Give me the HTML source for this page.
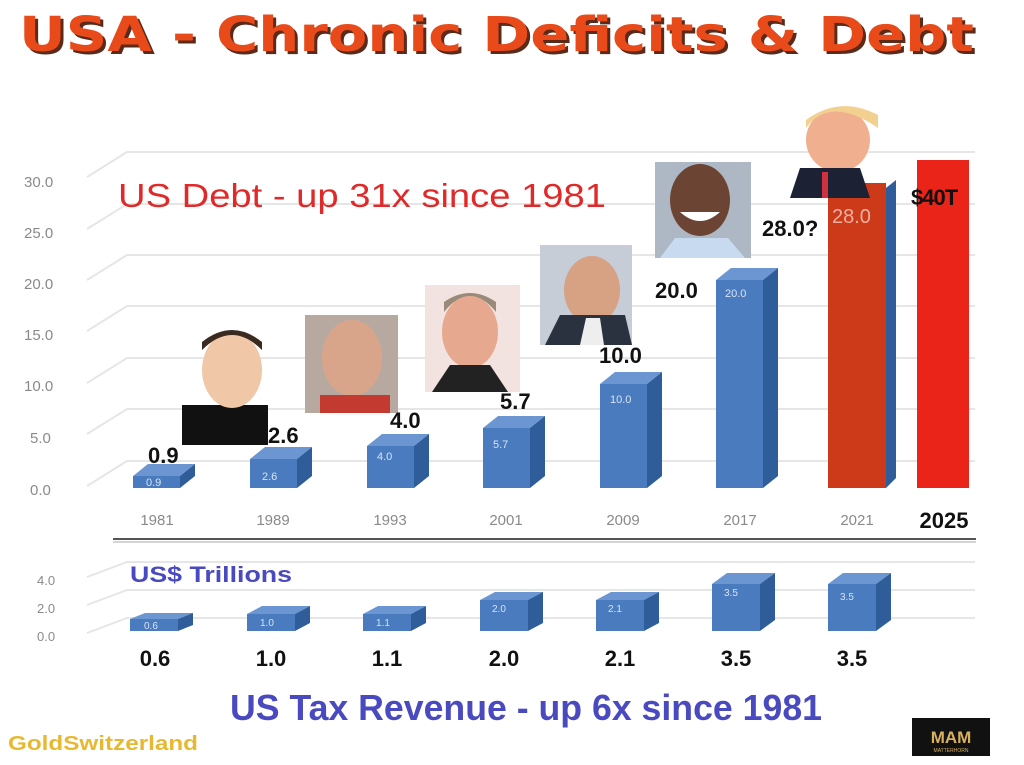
<!DOCTYPE html>
<html><head><meta charset="utf-8"><style>
html,body{margin:0;padding:0;background:#fff;}
svg{display:block;}
text{font-family:"Liberation Sans",sans-serif;}
</style></head><body>
<svg width="1024" height="765" viewBox="0 0 1024 765" xmlns="http://www.w3.org/2000/svg">
<rect width="1024" height="765" fill="#fff"/>
<!-- title -->
<text x="22" y="54" font-size="48" font-weight="bold" fill="#5a2a1a" style="font-family:'DejaVu Sans',sans-serif" textLength="955" lengthAdjust="spacingAndGlyphs">USA - Chronic Deficits &amp; Debt</text>
<text x="19" y="51" font-size="48" font-weight="bold" fill="#e84a1a" style="font-family:'DejaVu Sans',sans-serif" textLength="955" lengthAdjust="spacingAndGlyphs">USA - Chronic Deficits &amp; Debt</text>

<!-- top gridlines -->
<g stroke="#e6e6e6" stroke-width="2" fill="none">
<polyline points="87,177 127,152 975,152"/>
<polyline points="87,229 127,204 975,204"/>
<polyline points="87,280 127,255 975,255"/>
<polyline points="87,331 127,306 975,306"/>
<polyline points="87,383 127,358 975,358"/>
<polyline points="87,434 127,409 975,409"/>
<polyline points="87,486 127,461 975,461"/>
</g>
<g font-size="15" fill="#8a8a8a">
<text x="24" y="187">30.0</text><text x="24" y="238">25.0</text><text x="24" y="289">20.0</text>
<text x="24" y="340">15.0</text><text x="24" y="391">10.0</text><text x="30" y="443">5.0</text><text x="30" y="495">0.0</text>
</g>
<text x="118" y="207" font-size="33" fill="#e02a2a" textLength="488" lengthAdjust="spacingAndGlyphs">US Debt  -  up 31x since 1981</text>

<!-- top bars -->
<g>
<polygon points="133,476 148,464 195,464 180,476" fill="#6b96d2"/><polygon points="180,476 195,464 195,476 180,488" fill="#2f5d99"/><rect x="133" y="476" width="47" height="12" fill="#4a7bbf"/>
<polygon points="250,459 265,447 312,447 297,459" fill="#6b96d2"/><polygon points="297,459 312,447 312,476 297,488" fill="#2f5d99"/><rect x="250" y="459" width="47" height="29" fill="#4a7bbf"/>
<polygon points="367,446 382,434 429,434 414,446" fill="#6b96d2"/><polygon points="414,446 429,434 429,476 414,488" fill="#2f5d99"/><rect x="367" y="446" width="47" height="42" fill="#4a7bbf"/>
<polygon points="483,428 498,416 545,416 530,428" fill="#6b96d2"/><polygon points="530,428 545,416 545,476 530,488" fill="#2f5d99"/><rect x="483" y="428" width="47" height="60" fill="#4a7bbf"/>
<polygon points="600,384 615,372 662,372 647,384" fill="#6b96d2"/><polygon points="647,384 662,372 662,476 647,488" fill="#2f5d99"/><rect x="600" y="384" width="47" height="104" fill="#4a7bbf"/>
<polygon points="716,280 731,268 778,268 763,280" fill="#6b96d2"/><polygon points="763,280 778,268 778,476 763,488" fill="#2f5d99"/><rect x="716" y="280" width="47" height="208" fill="#4a7bbf"/>
<polygon points="886,188 896,180 896,478 886,488" fill="#2f5d99"/>
<rect x="828" y="183" width="58" height="305" fill="#cc3a1a"/>
<rect x="917" y="160" width="52" height="328" fill="#ea2419"/>
</g>
<g font-size="11" fill="#d8e4f4">
<text x="146" y="486">0.9</text><text x="262" y="480">2.6</text><text x="377" y="460">4.0</text>
<text x="493" y="448">5.7</text><text x="610" y="403">10.0</text><text x="725" y="297">20.0</text>
</g>
<text x="832" y="223" font-size="20" fill="#f0b0a0">28.0</text>

<!-- portraits (approximations) -->
<g>
<rect x="182" y="405" width="86" height="40" fill="#111"/>
<ellipse cx="232" cy="370" rx="30" ry="38" fill="#f0c8a8"/>
<path d="M202,350 Q232,320 262,350 L262,342 Q232,318 202,342Z" fill="#3a2a20"/>
<rect x="305" y="315" width="93" height="98" fill="#b8a9a0"/>
<ellipse cx="352" cy="358" rx="30" ry="38" fill="#d9a58a"/><rect x="320" y="395" width="70" height="18" fill="#c23a30"/>
<rect x="425" y="285" width="95" height="107" fill="#f2e2e0"/>
<ellipse cx="470" cy="332" rx="28" ry="36" fill="#e6a88e"/><path d="M432,392 L450,365 L490,365 L508,392Z" fill="#222"/>
<path d="M444,312 Q470,280 496,312 L496,302 Q470,284 444,302Z" fill="#9a8a7a"/>
<rect x="540" y="245" width="92" height="100" fill="#c6cdd6"/>
<ellipse cx="592" cy="290" rx="28" ry="34" fill="#d7a184"/><path d="M545,345 L560,315 L625,315 L632,345Z" fill="#2a3240"/><path d="M580,345 L586,318 L600,318 L604,345Z" fill="#eee"/>
<rect x="655" y="162" width="96" height="96" fill="#aeb7c4"/>
<ellipse cx="700" cy="200" rx="30" ry="36" fill="#6b4433"/><path d="M680,212 Q700,230 720,212Z" fill="#fff"/><path d="M660,258 L675,238 L728,238 L745,258Z" fill="#c8daf0"/>
<ellipse cx="838" cy="140" rx="32" ry="32" fill="#f0b090"/><path d="M806,128 Q830,95 878,128 L878,115 Q840,95 806,120Z" fill="#f2d090"/>
<path d="M790,198 L800,168 L860,168 L870,198Z" fill="#1c2233"/><rect x="822" y="172" width="6" height="26" fill="#d03040"/>
</g>

<!-- value labels -->
<g font-size="22" font-weight="bold" fill="#111">
<text x="148" y="463">0.9</text><text x="268" y="443">2.6</text><text x="390" y="428">4.0</text>
<text x="500" y="409">5.7</text><text x="599" y="363">10.0</text><text x="655" y="298">20.0</text>
<text x="762" y="236">28.0?</text><text x="911" y="205" letter-spacing="-1">$40T</text>
</g>

<!-- years -->
<g font-size="15" fill="#8a8a8a" text-anchor="middle">
<text x="157" y="525">1981</text><text x="273" y="525">1989</text><text x="390" y="525">1993</text>
<text x="506" y="525">2001</text><text x="623" y="525">2009</text><text x="740" y="525">2017</text><text x="857" y="525">2021</text>
</g>
<text x="944" y="528" font-size="22" font-weight="bold" fill="#111" text-anchor="middle">2025</text>

<!-- separator -->
<line x1="113" y1="539" x2="976" y2="539" stroke="#555" stroke-width="2"/>
<line x1="113" y1="542" x2="976" y2="542" stroke="#aaa" stroke-width="1"/>

<!-- bottom gridlines -->
<g stroke="#e6e6e6" stroke-width="2" fill="none">
<polyline points="87,577 127,562 975,562"/>
<polyline points="87,605 127,590 975,590"/>
<polyline points="87,633 127,618 975,618"/>
</g>
<g font-size="13" fill="#8a8a8a">
<text x="37" y="585">4.0</text><text x="37" y="613">2.0</text><text x="37" y="641">0.0</text>
</g>
<text x="130" y="582" font-size="22" font-weight="bold" fill="#4a4ac0" textLength="162" lengthAdjust="spacingAndGlyphs">US$ Trillions</text>

<!-- bottom bars -->
<g>
<polygon points="130,619 145,613 193,613 178,619" fill="#6b96d2"/><polygon points="178,619 193,613 193,625 178,631" fill="#2f5d99"/><rect x="130" y="619" width="48" height="12" fill="#4a7bbf"/>
<polygon points="247,614 262,606 310,606 295,614" fill="#6b96d2"/><polygon points="295,614 310,606 310,623 295,631" fill="#2f5d99"/><rect x="247" y="614" width="48" height="17" fill="#4a7bbf"/>
<polygon points="363,614 378,606 426,606 411,614" fill="#6b96d2"/><polygon points="411,614 426,606 426,623 411,631" fill="#2f5d99"/><rect x="363" y="614" width="48" height="17" fill="#4a7bbf"/>
<polygon points="480,600 495,592 543,592 528,600" fill="#6b96d2"/><polygon points="528,600 543,592 543,623 528,631" fill="#2f5d99"/><rect x="480" y="600" width="48" height="31" fill="#4a7bbf"/>
<polygon points="596,600 611,592 659,592 644,600" fill="#6b96d2"/><polygon points="644,600 659,592 659,623 644,631" fill="#2f5d99"/><rect x="596" y="600" width="48" height="31" fill="#4a7bbf"/>
<polygon points="712,584 727,573 775,573 760,584" fill="#6b96d2"/><polygon points="760,584 775,573 775,620 760,631" fill="#2f5d99"/><rect x="712" y="584" width="48" height="47" fill="#4a7bbf"/>
<polygon points="828,584 843,573 891,573 876,584" fill="#6b96d2"/><polygon points="876,584 891,573 891,620 876,631" fill="#2f5d99"/><rect x="828" y="584" width="48" height="47" fill="#4a7bbf"/>
</g>
<g font-size="10" fill="#d8e4f4">
<text x="144" y="629">0.6</text><text x="260" y="626">1.0</text><text x="376" y="626">1.1</text><text x="492" y="612">2.0</text>
<text x="608" y="612">2.1</text><text x="724" y="596">3.5</text><text x="840" y="600">3.5</text>
</g>
<g font-size="22" font-weight="bold" fill="#111" text-anchor="middle">
<text x="155" y="666">0.6</text><text x="271" y="666">1.0</text><text x="387" y="666">1.1</text><text x="504" y="666">2.0</text>
<text x="620" y="666">2.1</text><text x="736" y="666">3.5</text><text x="852" y="666">3.5</text>
</g>

<text x="230" y="720" font-size="36" font-weight="bold" fill="#4a4ac0" textLength="592" lengthAdjust="spacingAndGlyphs">US Tax Revenue  - up 6x since 1981</text>
<text x="8" y="750" font-size="20" font-weight="bold" fill="#e8b830" textLength="190" lengthAdjust="spacingAndGlyphs">GoldSwitzerland</text>
<rect x="912" y="718" width="78" height="38" fill="#111"/>
<text x="951" y="743" font-size="17" font-weight="bold" fill="#d8b060" text-anchor="middle">MAM</text>
<text x="951" y="752" font-size="5" fill="#d8b060" text-anchor="middle">MATTERHORN</text>
</svg>
</body></html>
